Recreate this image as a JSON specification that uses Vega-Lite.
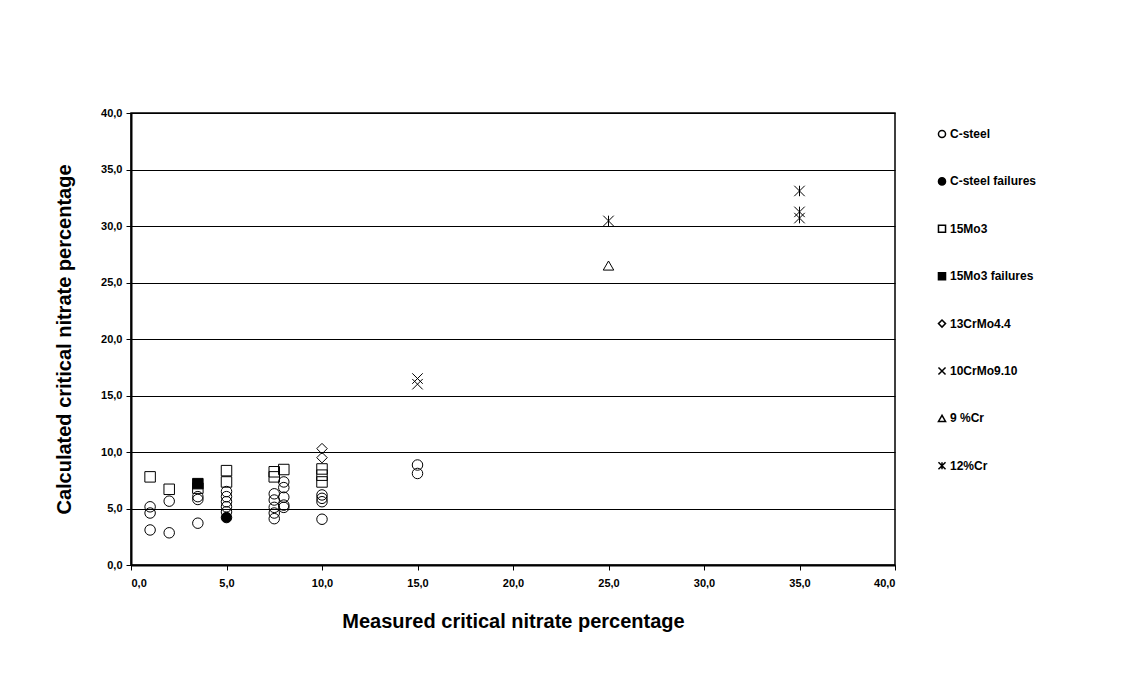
{
  "$schema": "https://vega.github.io/schema/vega-lite/v6.json",
  "width": 764,
  "height": 452,
  "autosize": {"type": "none"},
  "padding": {"left": 131, "top": 113, "right": 228, "bottom": 125},
  "background": "white",
  "config": {
    "font": "Liberation Sans",
    "view": {"stroke": "black", "strokeWidth": 1.5},
    "axis": {
      "labelFont": "Liberation Sans",
      "labelFontWeight": "bold",
      "labelFontSize": 11,
      "labelColor": "black",
      "titleFont": "Liberation Sans",
      "titleFontWeight": "bold",
      "titleFontSize": 20,
      "titleColor": "black",
      "domainColor": "black",
      "domainWidth": 2,
      "tickColor": "black",
      "tickSize": 5
    },
    "legend": {
      "labelFont": "Liberation Sans",
      "labelFontWeight": "bold",
      "labelFontSize": 12,
      "labelColor": "black"
    }
  },
  "data": {
    "values": [
      {"series": "C-steel", "x": 1, "y": 5.15},
      {"series": "C-steel", "x": 1, "y": 4.6},
      {"series": "C-steel", "x": 1, "y": 3.1},
      {"series": "C-steel", "x": 2, "y": 5.65},
      {"series": "C-steel", "x": 2, "y": 2.85},
      {"series": "C-steel", "x": 3.5, "y": 6.05},
      {"series": "C-steel", "x": 3.5, "y": 5.8},
      {"series": "C-steel", "x": 3.5, "y": 3.7},
      {"series": "C-steel", "x": 5, "y": 6.5},
      {"series": "C-steel", "x": 5, "y": 6.05},
      {"series": "C-steel", "x": 5, "y": 5.6},
      {"series": "C-steel", "x": 5, "y": 5.15},
      {"series": "C-steel", "x": 5, "y": 4.7},
      {"series": "C-steel", "x": 7.5, "y": 6.3},
      {"series": "C-steel", "x": 7.5, "y": 5.75},
      {"series": "C-steel", "x": 7.5, "y": 5.1},
      {"series": "C-steel", "x": 7.5, "y": 4.6},
      {"series": "C-steel", "x": 7.5, "y": 4.1},
      {"series": "C-steel", "x": 8, "y": 7.35},
      {"series": "C-steel", "x": 8, "y": 6.85},
      {"series": "C-steel", "x": 8, "y": 6.0},
      {"series": "C-steel", "x": 8, "y": 5.3},
      {"series": "C-steel", "x": 8, "y": 5.1},
      {"series": "C-steel", "x": 10, "y": 6.2},
      {"series": "C-steel", "x": 10, "y": 5.9},
      {"series": "C-steel", "x": 10, "y": 5.6},
      {"series": "C-steel", "x": 10, "y": 4.05},
      {"series": "C-steel", "x": 15, "y": 8.85},
      {"series": "C-steel", "x": 15, "y": 8.1},
      {"series": "C-steel failures", "x": 5, "y": 4.2},
      {"series": "15Mo3", "x": 1, "y": 7.8},
      {"series": "15Mo3", "x": 2, "y": 6.7},
      {"series": "15Mo3", "x": 3.5, "y": 6.8},
      {"series": "15Mo3", "x": 5, "y": 8.35},
      {"series": "15Mo3", "x": 5, "y": 7.35},
      {"series": "15Mo3", "x": 7.5, "y": 8.25},
      {"series": "15Mo3", "x": 7.5, "y": 7.8},
      {"series": "15Mo3", "x": 8, "y": 8.45},
      {"series": "15Mo3", "x": 10, "y": 8.5},
      {"series": "15Mo3", "x": 10, "y": 7.95},
      {"series": "15Mo3", "x": 10, "y": 7.35},
      {"series": "15Mo3 failures", "x": 3.5, "y": 7.2},
      {"series": "13CrMo4.4", "x": 10, "y": 10.3},
      {"series": "13CrMo4.4", "x": 10, "y": 9.5},
      {"series": "10CrMo9.10", "x": 15, "y": 16.5},
      {"series": "10CrMo9.10", "x": 15, "y": 16.0},
      {"series": "9 %Cr", "x": 25, "y": 26.5},
      {"series": "12%Cr", "x": 25, "y": 30.45},
      {"series": "12%Cr", "x": 35, "y": 33.1},
      {"series": "12%Cr", "x": 35, "y": 31.25},
      {"series": "12%Cr", "x": 35, "y": 30.7}
    ]
  },
  "mark": {"type": "point", "size": 110, "strokeWidth": 1, "opacity": 1, "stroke": "black"},
  "encoding": {
    "x": {
      "field": "x",
      "type": "quantitative",
      "scale": {"domain": [0, 40], "nice": false, "zero": true},
      "axis": {
        "title": "Measured critical nitrate percentage",
        "values": [0, 5, 10, 15, 20, 25, 30, 35, 40],
        "grid": false,
        "labelExpr": "replace(format(datum.value, '.1f'), '.', ',')",
        "labelPadding": 7,
        "titlePadding": 23
      }
    },
    "y": {
      "field": "y",
      "type": "quantitative",
      "scale": {"domain": [0, 40], "nice": false},
      "axis": {
        "title": "Calculated critical nitrate percentage",
        "values": [0, 5, 10, 15, 20, 25, 30, 35, 40],
        "grid": true,
        "gridColor": "black",
        "gridOpacity": 1,
        "gridWidth": 1,
        "labelExpr": "replace(format(datum.value, '.1f'), '.', ',')",
        "labelPadding": 4,
        "titlePadding": 26
      }
    },
    "shape": {
      "field": "series",
      "type": "nominal",
      "scale": {
        "domain": ["C-steel", "C-steel failures", "15Mo3", "15Mo3 failures", "13CrMo4.4", "10CrMo9.10", "9 %Cr", "12%Cr"],
        "range": ["circle", "circle", "square", "square", "diamond", "M-1,-1L1,1M-1,1L1,-1", "triangle-up", "M-1,-1L1,1M-1,1L1,-1M0,-1L0,1"]
      },
      "legend": {
        "title": null,
        "orient": "none",
        "legendX": 805,
        "legendY": 15,
        "rowPadding": 33.4,
        "symbolSize": 50,
        "labelOffset": 2,
        "encode": {"symbols": {"update": {"stroke": {"value": "black"}, "strokeWidth": {"value": 1}}}}
      }
    },
    "fill": {
      "field": "series",
      "type": "nominal",
      "scale": {
        "domain": ["C-steel", "C-steel failures", "15Mo3", "15Mo3 failures", "13CrMo4.4", "10CrMo9.10", "9 %Cr", "12%Cr"],
        "range": ["transparent", "black", "transparent", "black", "transparent", "transparent", "transparent", "transparent"]
      },
      "legend": {
        "title": null,
        "orient": "none",
        "legendX": 805,
        "legendY": 15,
        "rowPadding": 33.4,
        "symbolSize": 50,
        "labelOffset": 2,
        "encode": {"symbols": {"update": {"stroke": {"value": "black"}, "strokeWidth": {"value": 1}}}}
      }
    }
  }
}
